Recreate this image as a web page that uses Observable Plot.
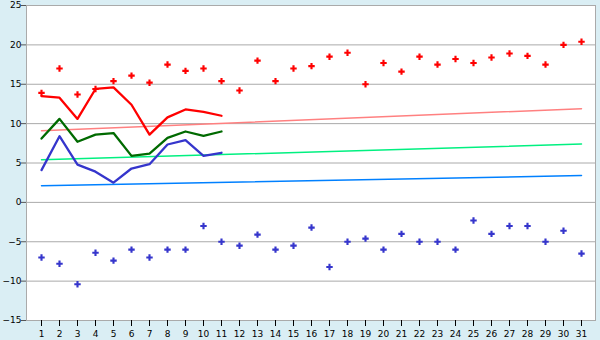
<!DOCTYPE html>
<html>
<head>
<meta charset="utf-8">
<script src="https://cdn.jsdelivr.net/npm/d3@7"></script>
<script src="https://cdn.jsdelivr.net/npm/@observablehq/plot@0.6"></script>
<style>
  html, body { margin: 0; padding: 0; background: #daeef4; }
</style>
</head>
<body>
<div id="chart"></div>
<script>
const days = [1,2,3,4,5,6,7,8,9,10,11,12,13,14,15,16,17,18,19,20,21,22,23,24,25,26,27,28,29,30,31];
const maxPts = [13.9,17.0,13.7,14.4,15.4,16.1,15.2,17.5,16.7,17.0,15.4,14.2,18.0,15.4,17.0,17.3,18.5,19.0,15.0,17.7,16.6,18.5,17.5,18.2,17.7,18.4,18.9,18.6,17.5,20.0,20.4];
const minPts = [-7.0,-7.8,-10.4,-6.4,-7.4,-6.0,-7.0,-6.0,-6.0,-3.0,-5.0,-5.5,-4.1,-6.0,-5.5,-3.2,-8.2,-5.0,-4.6,-6.0,-4.0,-5.0,-5.0,-6.0,-2.3,-4.0,-3.0,-3.0,-5.0,-3.6,-6.5];
const lineDays = [1,2,3,4,5,6,7,8,9,10,11];
const redLine = [13.5,13.3,10.6,14.4,14.6,12.4,8.6,10.8,11.8,11.5,11.0];
const greenLine = [8.1,10.6,7.7,8.6,8.8,5.9,6.2,8.2,9.0,8.45,9.0];
const blueLine = [4.1,8.4,4.8,3.9,2.5,4.3,4.85,7.35,7.9,5.9,6.3];
const trendDays = [1,31];
const trendRed = [9.1,11.9];
const trendGreen = [5.4,7.4];
const trendBlue = [2.1,3.4];
const yTicks = [-15,-10,-5,0,5,10,15,20,25];

const pts = (xs, ys) => xs.map((d, i) => ({day: d, v: ys[i]}));

const chart = Plot.plot({
  width: 600,
  height: 340,
  marginLeft: 26,
  marginRight: 5,
  marginTop: 5,
  marginBottom: 20,
  style: {background: "#daeef4", fontFamily: "DejaVu Sans", fontSize: "9px", color: "#000"},
  x: {type: "point", domain: days, padding: 0.5},
  y: {domain: [-15, 25]},
  marks: [
    Plot.frame({fill: "white", stroke: "none"}),
    Plot.gridY(yTicks, {stroke: "#aaa", strokeOpacity: 1, strokeWidth: 1}),
    Plot.frame({stroke: "#aaa", strokeWidth: 1}),
    Plot.axisY(yTicks, {tickSize: 5, tickPadding: 0, stroke: "#555", fontSize: 9, label: null}),
    Plot.axisX(days, {tickSize: 6, tickPadding: 4, stroke: "#000", fontSize: 9, label: null}),
    Plot.line(pts(trendDays, trendRed), {x: "day", y: "v", stroke: "#ff8080", strokeWidth: 1.5}),
    Plot.line(pts(trendDays, trendGreen), {x: "day", y: "v", stroke: "#00f080", strokeWidth: 1.5}),
    Plot.line(pts(trendDays, trendBlue), {x: "day", y: "v", stroke: "#0080ff", strokeWidth: 1.5}),
    Plot.line(pts(lineDays, redLine), {x: "day", y: "v", stroke: "#ff0000", strokeWidth: 2.3}),
    Plot.line(pts(lineDays, greenLine), {x: "day", y: "v", stroke: "#006a00", strokeWidth: 2.3}),
    Plot.line(pts(lineDays, blueLine), {x: "day", y: "v", stroke: "#3535cc", strokeWidth: 2.3}),
    Plot.dot(pts(days, maxPts), {x: "day", y: "v", symbol: "cross", r: 2.7, fill: "#ff0000", stroke: "none"}),
    Plot.dot(pts(days, minPts), {x: "day", y: "v", symbol: "cross", r: 2.7, fill: "#3535cc", stroke: "none"})
  ]
});
document.getElementById("chart").appendChild(chart);
</script>
</body>
</html>
